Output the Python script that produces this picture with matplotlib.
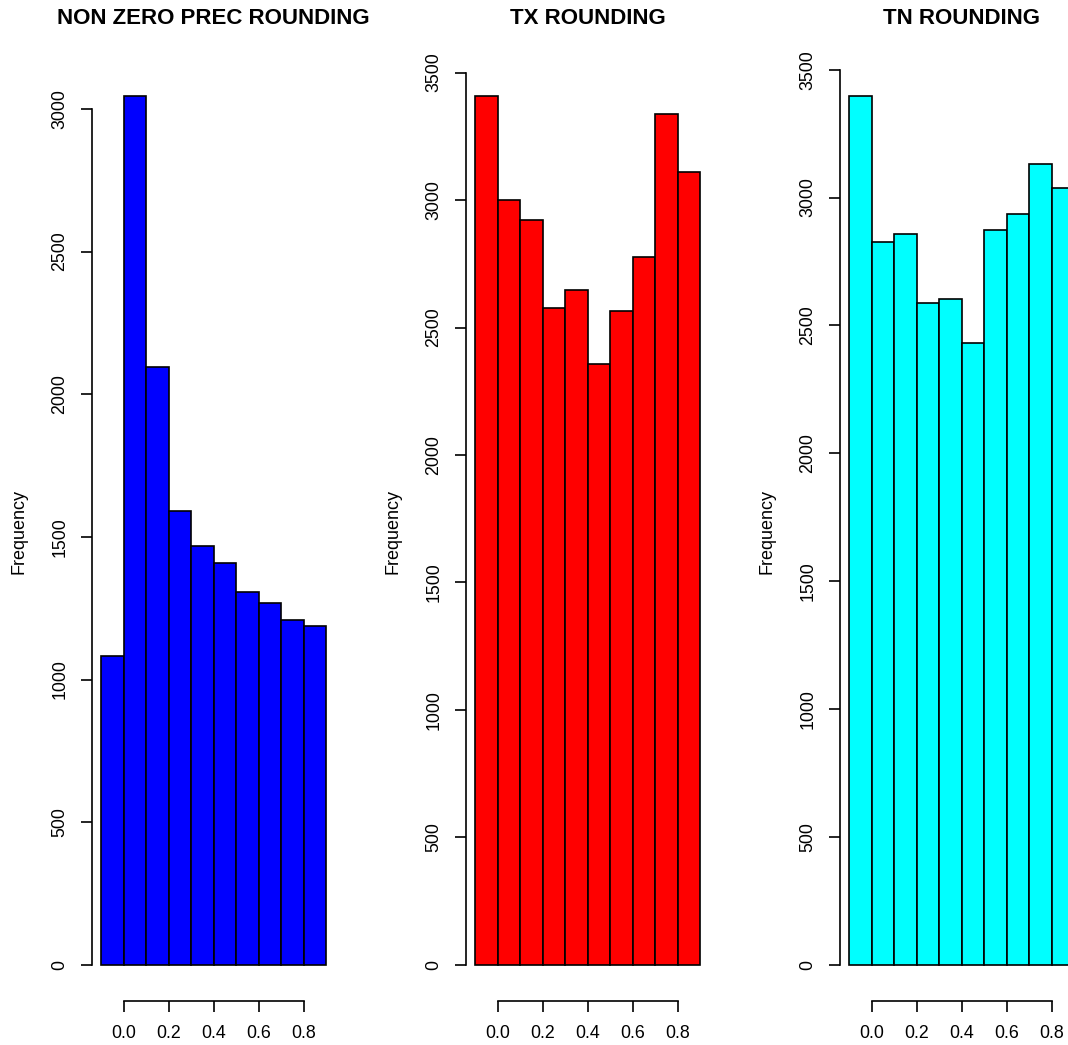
import matplotlib
matplotlib.use("Agg")
import matplotlib.pyplot as plt
import numpy as np

plt.rcParams["font.family"] = ["Liberation Sans", "DejaVu Sans"]

# bin edges run from -0.1 to 0.9 in steps of 0.1
bin_edges = np.round(np.arange(-0.1, 0.95, 0.1), 2)

titles = ["NON ZERO PREC ROUNDING", "TX ROUNDING", "TN ROUNDING"]
colors = ["#0000FF", "#FF0000", "#00FFFF"]

nonzero_prec_counts = [1083, 3046, 2096, 1591, 1469, 1409, 1307, 1269, 1209, 1188]
tx_counts = [3409, 3000, 2921, 2576, 2648, 2355, 2563, 2776, 3339, 3110]
tn_counts = [3398, 2825, 2857, 2587, 2602, 2430, 2873, 2936, 3131, 3036]

x_ticks = [0.0, 0.2, 0.4, 0.6, 0.8]
x_tick_labels = ["0.0", "0.2", "0.4", "0.6", "0.8"]
y_tick_sets = [
    [0, 500, 1000, 1500, 2000, 2500, 3000],
    [0, 500, 1000, 1500, 2000, 2500, 3000, 3500],
    [0, 500, 1000, 1500, 2000, 2500, 3000, 3500],
]

W, H = 1068, 1045
fig = plt.figure(figsize=(W / 100, H / 100), dpi=100)

all_counts = [nonzero_prec_counts, tx_counts, tn_counts]
for i, (counts, title, color, yticks) in enumerate(
    zip(all_counts, titles, colors, y_tick_sets)
):
    left = 92 + 374 * i
    ax = fig.add_axes([left / W, 44 / H, 243 / W, 940 / H])
    ax.bar(
        bin_edges[:-1],
        counts,
        width=0.1,
        align="edge",
        color=color,
        edgecolor="black",
        linewidth=1.2,
    )
    span = bin_edges[-1] - bin_edges[0]
    ax.set_xlim(bin_edges[0] - 0.04 * span, bin_edges[-1] + 0.04 * span)
    ymax = max(counts) * 1.04
    ax.set_ylim(-0.04 * ymax, ymax)

    for s in ["top", "right"]:
        ax.spines[s].set_visible(False)
    ax.spines["left"].set_bounds(yticks[0], yticks[-1])
    ax.spines["bottom"].set_bounds(x_ticks[0], x_ticks[-1])
    for s in ["left", "bottom"]:
        ax.spines[s].set_linewidth(1.2)

    ax.set_xticks(x_ticks)
    ax.set_xticklabels(x_tick_labels)
    ax.set_yticks(yticks)
    ax.set_yticklabels([str(t) for t in yticks], rotation=90, va="center")
    ax.tick_params(direction="out", length=8, width=1.2, labelsize=12.8)
    ax.tick_params(axis="x", pad=9)
    ax.tick_params(axis="y", pad=9)

    ax.set_ylabel("Frequency", fontsize=13, labelpad=17)
    ax.set_title(title, fontsize=16, fontweight="bold", pad=27)

fig.savefig("out.png", dpi=100)
